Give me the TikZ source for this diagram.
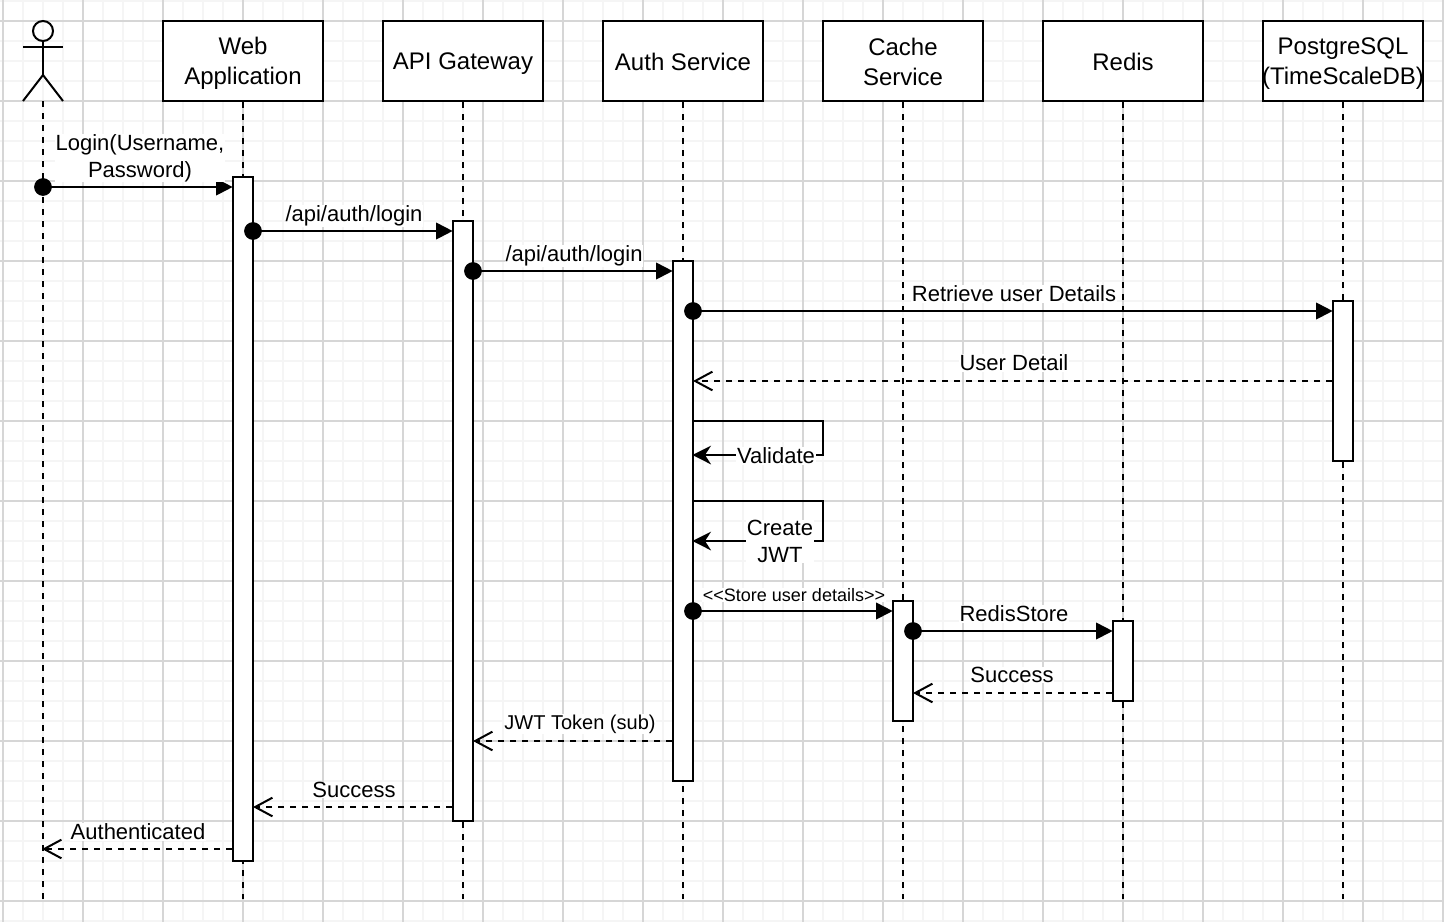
\documentclass[tikz,border=0pt]{standalone}
\usepackage{fontspec}
\setmainfont{Liberation Sans}
\usetikzlibrary{arrows.meta}
\newcommand{\headstrut}{\rule[-1.6pt]{0pt}{17.6pt}}
\tikzstyle{msg_arrow} = [line width=1.5pt,shorten >=-0.5pt,-{Triangle[length=12.5pt,width=12.5pt]}]
\tikzstyle{ret_arrow} = [line width=1.5pt,shorten >=-0.75pt,dash pattern=on 4.5pt off 4.5pt,-{Straight Barb[length=13pt,width=14pt,line width=1.5pt]}]
\tikzstyle{self_arrow} = [line width=1.5pt,shorten >=-0.5pt,-{Stealth[length=14pt,width=14pt,inset=4.5pt]}]

\begin{document}
\begin{tikzpicture}[
        x=0.75pt, y=-0.75pt,
        % Define styles for the parts of the sequence
        head_box/.style={draw, line width=1.5pt, fill=white, minimum width=120pt, minimum height=60pt, align=center, inner sep=0pt, font=\fontsize{18}{22.5}\selectfont},
        act_box/.style={draw, line width=1.5pt, fill=white, minimum width=15pt, inner sep=0pt},
        dot_mark/.style={circle, fill=black, minimum size=13.3pt, inner sep=0pt},
        life_line/.style={line width=1.5pt, dash pattern=on 4.5pt off 4.5pt},
        msg_label/.style={fill=white, align=center, inner sep=0.5pt, font=\fontsize{16.5}{20}\selectfont}
    ]
        % --- Page and grid ---
        \useasboundingbox (0, 0) rectangle (1444, 922);
        \fill[white] (0, 0) rectangle (1444, 922);
        \foreach \k in {0,...,72} \draw[line width=1.5pt, black!4] (3+20*\k, 0) -- (3+20*\k, 922);
        \foreach \k in {0,...,46} \draw[line width=1.5pt, black!4] (0, 1+20*\k) -- (1444, 1+20*\k);
        \foreach \k in {0,...,18} \draw[line width=0.8pt, black!16] (3+80*\k, 0) -- (3+80*\k, 922);
        \foreach \k in {0,...,11} \draw[line width=0.8pt, black!16] (0, 21+80*\k) -- (1444, 21+80*\k);

        % --- Lifeline heads at fixed positions ---
        \node (web)   [head_box] at (243, 61) {\headstrut Web\\\headstrut Application};
        \node (api)   [head_box] at (463, 61) {\headstrut API Gateway};
        \node (auth)  [head_box] at (683, 61) {\headstrut Auth Service};
        \node (cache) [head_box] at (903, 61) {\headstrut Cache\\\headstrut Service};
        \node (redis) [head_box] at (1123, 61) {\headstrut Redis};
        \node (pg)    [head_box] at (1343, 61) {\headstrut PostgreSQL\\\headstrut\makebox[0pt]{(TimeScaleDB)}};

        % --- Actor ---
        \node (actor) [draw, circle, line width=1.5pt, minimum size=15pt, inner sep=0pt] at (43, 31) {};
        \coordinate (actor_hip) at (43, 75);
        \coordinate (actor_foot) at (43, 101);
        \draw[line width=1.5pt] (actor.south) -- (actor_hip);
        \draw[line width=1.5pt] (23, 47) -- (63, 47);
        \draw[line width=1.5pt] (23, 101) -- (actor_hip) -- (63, 101);

        % --- Lifelines ---
        \coordinate (line_end) at (0, 899);
        \draw[life_line] (actor_foot) -- (actor_foot |- line_end);
        \foreach \head in {web, api, auth, cache, redis, pg}
            \draw[life_line] (\head.south) -- (\head.south |- line_end);

        % --- Activation bars ---
        \node (web_act)   [act_box, minimum height=513pt] at (243, 519) {};
        \node (api_act)   [act_box, minimum height=450pt] at (463, 521) {};
        \node (auth_act)  [act_box, minimum height=390pt] at (683, 521) {};
        \node (cache_act) [act_box, minimum height=90pt] at (903, 661) {};
        \node (redis_act) [act_box, minimum height=60pt] at (1123, 661) {};
        \node (pg_act)    [act_box, minimum height=120pt] at (1343, 381) {};

        % --- Calls with a dot at the start ---
        \node (dot_login) [dot_mark] at (43, 187) {};
        \node (dot_web)   [dot_mark] at (253, 231) {};
        \node (dot_api)   [dot_mark] at (473, 271) {};
        \node (dot_auth)  [dot_mark] at (693, 311) {};
        \node (dot_store) [dot_mark] at (693, 611) {};
        \node (dot_cache) [dot_mark] at (913, 631) {};
        \draw[msg_arrow] (dot_login.center) -- (dot_login -| web_act.west);
        \draw[msg_arrow] (dot_web.center) -- (dot_web -| api_act.west);
        \draw[msg_arrow] (dot_api.center) -- (dot_api -| auth_act.west);
        \draw[msg_arrow] (dot_auth.center) -- (dot_auth -| pg_act.west);
        \draw[msg_arrow] (dot_store.center) -- (dot_store -| cache_act.west);
        \draw[msg_arrow] (dot_cache.center) -- (dot_cache -| redis_act.west);

        % --- Returns ---
        \coordinate (ret_pg) at (0, 381);
        \coordinate (ret_redis) at (0, 693);
        \coordinate (ret_auth) at (0, 741);
        \coordinate (ret_api) at (0, 807);
        \coordinate (ret_web) at (0, 849);
        \draw[ret_arrow] (pg_act.west |- ret_pg) -- (auth_act.east |- ret_pg);
        \draw[ret_arrow] (redis_act.west |- ret_redis) -- (cache_act.east |- ret_redis);
        \draw[ret_arrow] (auth_act.west |- ret_auth) -- (api_act.east |- ret_auth);
        \draw[ret_arrow] (api_act.west |- ret_api) -- (web_act.east |- ret_api);
        \draw[ret_arrow] (web_act.west |- ret_web) -- (actor_foot |- ret_web);

        % --- Self calls ---
        \coordinate (val_from) at (693, 421);
        \coordinate (val_to) at (693, 455);
        \coordinate (jwt_from) at (693, 501);
        \coordinate (jwt_to) at (693, 541);
        \draw[self_arrow] (val_from) -- ++(130, 0) |- (val_to);
        \draw[self_arrow] (jwt_from) -- ++(130, 0) |- (jwt_to);

        % --- Labels ---
        \node (lbl_login)   [msg_label] at (140, 158) {Login(Username,\\Password)};
        \node (lbl_web)     [msg_label] at (354, 216) {/api/auth/login};
        \node (lbl_api)     [msg_label] at (574, 256) {/api/auth/login};
        \node (lbl_pg)      [msg_label] at (1014, 294) {Retrieve user Details};
        \node (lbl_detail)  [msg_label] at (1014, 363) {User Detail};
        \node (lbl_val)     [msg_label] at (776, 456) {Validate};
        \node (lbl_jwt)     [msg_label] at (780, 541.5) {Create\\JWT};
        \node (lbl_store)   [msg_label, font=\fontsize{13.5}{16}\selectfont] at (794, 595) {<{}<Store user details>{}>};
        \node (lbl_redis)   [msg_label] at (1014, 614) {RedisStore};
        \node (lbl_ok)      [msg_label] at (1012, 675) {Success};
        \node (lbl_token)   [msg_label, font=\fontsize{15}{18}\selectfont] at (580, 724) {JWT Token (sub)};
        \node (lbl_success) [msg_label] at (354, 790) {Success};
        \node (lbl_authd)   [msg_label] at (138, 832) {Authenticated};
    \end{tikzpicture}
\end{document}
